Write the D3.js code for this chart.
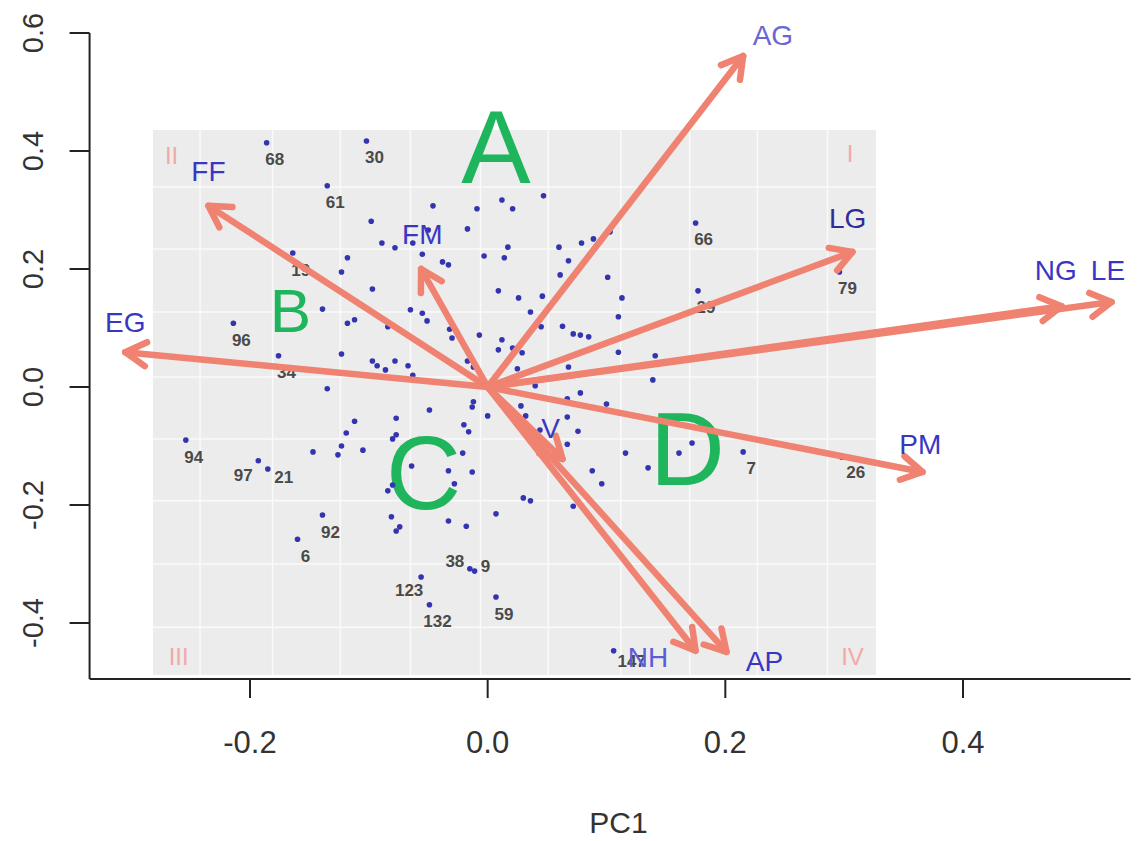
<!DOCTYPE html>
<html>
<head>
<meta charset="utf-8">
<script src="https://cdn.jsdelivr.net/npm/d3@7"></script>
<style>
  body { margin: 0; background: #fff; }
  svg { display: block; font-family: "Liberation Sans", Arial, sans-serif; }
</style>
</head>
<body>
<svg id="chart" width="1137" height="841"></svg>
<script>
// axis ticks
const xTicks = [-0.2, 0.0, 0.2, 0.4];
const yTicks = [-0.4, -0.2, 0.0, 0.2, 0.4, 0.6];

// loadings (arrow tips) and where their names sit
const varNames = ["AG", "FF", "FM", "EG", "LG", "NG", "LE", "PM", "V", "NH", "AP"];
const loadX = [0.215, -0.235, -0.056, -0.305, 0.307, 0.483, 0.525, 0.366, 0.063, 0.175, 0.201];
const loadY = [0.561, 0.307, 0.200, 0.059, 0.229, 0.137, 0.144, -0.144, -0.122, -0.447, -0.449];
const nameX = [0.240, -0.235, -0.055, -0.305, 0.303, 0.478, 0.522, 0.364, 0.053, 0.135, 0.233];
const nameY = [0.595, 0.366, 0.258, 0.110, 0.285, 0.197, 0.197, -0.097, -0.071, -0.458, -0.466];

// scores
const pointX = [-0.186, -0.102, -0.135, -0.098, -0.164, -0.118, -0.123, -0.046, -0.089, -0.078,
  -0.063, -0.050, -0.055, -0.038, -0.033, -0.017, -0.009, 0.012, 0.021, 0.047,
  -0.003, 0.014, 0.017, 0.060, 0.079, 0.089, 0.103, 0.068, 0.061, 0.101,
  0.175, 0.296, -0.097, 0.009, 0.026, 0.046, 0.113, 0.110, 0.177, -0.065,
  -0.055, -0.051, 0.036, 0.063, 0.072, 0.078, 0.085, 0.045, -0.007, 0.012,
  0.009, 0.021, 0.029, -0.032, -0.030, -0.084, -0.097, -0.093, -0.086, -0.078,
  -0.067, -0.063, -0.017, -0.012, 0.025, 0.068, 0.110, 0.139, 0.141, 0.040,
  0.078, 0.067, 0.100, -0.012, -0.013, 0.000, -0.049, 0.028, 0.032, 0.067,
  0.076, 0.044, -0.020, -0.016, -0.077, -0.077, -0.080, 0.067, -0.021, 0.116,
  0.172, 0.161, 0.215, 0.135, 0.088, 0.096, -0.064, -0.033, -0.013, -0.028,
  -0.084, -0.080, 0.030, 0.036, -0.139, -0.118, -0.112, -0.214, -0.176, -0.123,
  -0.135, -0.112, -0.119, -0.123, -0.126, -0.105, -0.147, -0.254, -0.193, -0.185,
  -0.139, -0.160, 0.072, -0.081, -0.074, -0.077, -0.033, -0.018, 0.007, -0.015,
  -0.011, -0.056, -0.049, 0.007, 0.106, 0.298];
const pointY = [0.414, 0.417, 0.341, 0.281, 0.227, 0.219, 0.195, 0.307, 0.244, 0.236,
  0.244, 0.266, 0.225, 0.212, 0.207, 0.268, 0.302, 0.317, 0.302, 0.324,
  0.222, 0.219, 0.237, 0.237, 0.244, 0.251, 0.263, 0.214, 0.190, 0.186,
  0.278, 0.195, 0.166, 0.163, 0.151, 0.154, 0.151, 0.119, 0.163, 0.131,
  0.125, 0.112, 0.127, 0.103, 0.090, 0.088, 0.085, 0.102, 0.088, 0.080,
  0.063, 0.066, 0.058, 0.098, 0.083, 0.102, 0.044, 0.036, 0.029, 0.044,
  0.036, 0.020, 0.044, 0.034, 0.031, 0.034, 0.059, 0.012, 0.053, 0.002,
  -0.010, -0.020, -0.029, -0.025, -0.034, -0.049, -0.039, -0.032, -0.049, -0.051,
  -0.075, -0.073, -0.064, -0.076, -0.053, -0.081, -0.088, -0.097, -0.112, -0.112,
  -0.095, -0.112, -0.110, -0.137, -0.142, -0.164, -0.134, -0.142, -0.144, -0.164,
  -0.176, -0.166, -0.188, -0.193, 0.132, 0.108, 0.114, 0.108, 0.053, 0.056,
  -0.003, -0.058, -0.078, -0.100, -0.115, -0.107, -0.110, -0.090, -0.125, -0.139,
  -0.217, -0.258, -0.202, -0.220, -0.237, -0.244, -0.227, -0.236, -0.215, -0.308,
  -0.312, -0.322, -0.369, -0.356, -0.447, -0.119];
const pointId = ["68", "30", "61", "", "19", "", "", "", "", "",
  "", "", "", "", "", "", "", "", "", "",
  "", "", "", "", "", "", "", "", "", "",
  "66", "79", "", "", "", "", "", "", "29", "",
  "", "", "", "", "", "", "", "", "", "",
  "", "", "", "", "", "", "", "", "", "",
  "", "", "", "", "", "", "", "", "", "",
  "", "", "", "", "", "", "", "", "", "",
  "", "", "", "", "", "", "", "", "", "",
  "", "", "7", "", "", "", "", "", "", "",
  "", "", "", "", "", "", "", "96", "34", "",
  "", "", "", "", "", "", "", "94", "97", "21",
  "92", "6", "", "", "", "", "", "", "", "38",
  "9", "123", "132", "59", "147", "26"];

// quadrant letters and roman numerals
const zoneText = ["A", "B", "C", "D"];
const zoneX = [0.007, -0.166, -0.054, 0.168];
const zoneY = [0.407, 0.129, -0.146, -0.105];
const zoneSize = [104, 62, 104, 104];
const romanText = ["II", "I", "III", "IV"];
const romanX = [-0.266, 0.305, -0.260, 0.307];
const romanY = [0.393, 0.395, -0.456, -0.456];

// inner grey panel and its grid
const panelX = [-0.2817, 0.3268];
const panelY = [-0.488, 0.4356];
const gridX = [-0.242, -0.181, -0.124, -0.065, -0.006, 0.051, 0.112, 0.170, 0.227, 0.286];
const gridY = [0.339, 0.234, 0.127, 0.017, -0.088, -0.193, -0.300, -0.407];

const xEnd = [-0.335, 0.541];
const yEnd = [-0.495, 0.6];

const svg = d3.select("#chart");
const x = d3.scaleLinear().domain([-0.2, 0.4]).range([250, 963]);
const y = d3.scaleLinear().domain([-0.4, 0.6]).range([623, 33]);

const arrowCol = "#ef8270";
const nameCol = {AG: "#6a66d2", LG: "#2e2c96", NH: "#5c5cd8"};
const fmt = d => d.toFixed(1);

// grey panel
svg.append("rect")
  .attr("x", x(panelX[0])).attr("y", y(panelY[1]))
  .attr("width", x(panelX[1]) - x(panelX[0]))
  .attr("height", y(panelY[0]) - y(panelY[1]))
  .attr("fill", "#ececec");

svg.append("g").selectAll("line").data(gridX).join("line")
  .attr("x1", d => x(d)).attr("x2", d => x(d))
  .attr("y1", y(panelY[1])).attr("y2", y(panelY[0]))
  .attr("stroke", "#fafafa").attr("stroke-width", 1.5);
svg.append("g").selectAll("line").data(gridY).join("line")
  .attr("y1", d => y(d)).attr("y2", d => y(d))
  .attr("x1", x(panelX[0])).attr("x2", x(panelX[1]))
  .attr("stroke", "#fafafa").attr("stroke-width", 1.5);

// roman numerals
svg.append("g").selectAll("text").data(romanText).join("text")
  .attr("x", (d, i) => x(romanX[i])).attr("y", (d, i) => y(romanY[i]))
  .attr("text-anchor", "middle").attr("dominant-baseline", "central")
  .attr("font-size", 24).attr("fill", "#f2a9a9")
  .text(d => d);

// quadrant letters
svg.append("g").selectAll("text").data(zoneText).join("text")
  .attr("x", (d, i) => x(zoneX[i])).attr("y", (d, i) => y(zoneY[i]))
  .attr("text-anchor", "middle").attr("dominant-baseline", "central")
  .attr("font-size", (d, i) => zoneSize[i]).attr("fill", "#1fb55c")
  .text(d => d);

// points
const pts = pointX.map((d, i) => ({x: d, y: pointY[i], id: pointId[i]}));
svg.append("g").selectAll("circle").data(pts).join("circle")
  .attr("cx", d => x(d.x)).attr("cy", d => y(d.y)).attr("r", 2.8)
  .attr("fill", "#3434b0");

const labelNudge = {"97": [-15, 15], "38": [-15, -7], "123": [-12, 14], "9": [11, -5],
  "147": [18, 11], "21": [16, 8], "26": [14, 15]};
svg.append("g").selectAll("text").data(pts.filter(d => d.id)).join("text")
  .attr("x", d => x(d.x) + (labelNudge[d.id] || [8, 17])[0])
  .attr("y", d => y(d.y) + (labelNudge[d.id] || [8, 17])[1])
  .attr("text-anchor", "middle").attr("dominant-baseline", "central")
  .attr("font-size", 17).attr("font-weight", "bold").attr("fill", "#4a4a4a")
  .text(d => d.id);

// arrows
const x0 = x(0), y0 = y(0);
const arrows = svg.append("g").attr("stroke", arrowCol).attr("stroke-width", 6.5)
  .attr("stroke-linecap", "round").attr("fill", "none");
varNames.forEach((v, i) => {
  const tx = x(loadX[i]), ty = y(loadY[i]);
  const a = Math.atan2(ty - y0, tx - x0);
  const len = 24, spread = Math.PI / 6;
  arrows.append("line").attr("x1", x0).attr("y1", y0).attr("x2", tx).attr("y2", ty);
  arrows.append("path").attr("stroke-linejoin", "round")
    .attr("d", d3.line()([
      [tx - len * Math.cos(a - spread), ty - len * Math.sin(a - spread)],
      [tx, ty],
      [tx - len * Math.cos(a + spread), ty - len * Math.sin(a + spread)]
    ]));
});

// variable names
svg.append("g").selectAll("text").data(varNames).join("text")
  .attr("x", (d, i) => x(nameX[i])).attr("y", (d, i) => y(nameY[i]))
  .attr("text-anchor", "middle").attr("dominant-baseline", "central")
  .attr("font-size", 28).attr("fill", d => nameCol[d] || "#3a36c4")
  .text(d => d);

// axes (L-shaped frame)
const ax = svg.append("g").attr("stroke", "#222").attr("stroke-width", 2);
ax.append("line").attr("x1", x(xEnd[0])).attr("x2", x(xEnd[0]))
  .attr("y1", y(yEnd[1])).attr("y2", y(yEnd[0]));
ax.append("line").attr("x1", x(xEnd[0])).attr("x2", x(xEnd[1]))
  .attr("y1", y(yEnd[0])).attr("y2", y(yEnd[0]));
ax.selectAll(".xt").data(xTicks).join("line").attr("class", "xt")
  .attr("x1", d => x(d)).attr("x2", d => x(d))
  .attr("y1", y(yEnd[0])).attr("y2", y(yEnd[0]) + 19);
ax.selectAll(".yt").data(yTicks).join("line").attr("class", "yt")
  .attr("y1", d => y(d)).attr("y2", d => y(d))
  .attr("x1", x(xEnd[0])).attr("x2", x(xEnd[0]) - 20);

svg.append("g").selectAll("text").data(xTicks).join("text")
  .attr("x", d => x(d)).attr("y", y(yEnd[0]) + 63)
  .attr("text-anchor", "middle").attr("dominant-baseline", "central")
  .attr("font-size", 31).attr("fill", "#333")
  .text(fmt);

svg.append("g").selectAll("text").data(yTicks).join("text")
  .attr("transform", d => `translate(33,${y(d)}) rotate(-90)`)
  .attr("text-anchor", "middle").attr("dominant-baseline", "central")
  .attr("font-size", 29).attr("fill", "#333")
  .text(fmt);

svg.append("text")
  .attr("x", x(0.11)).attr("y", 822)
  .attr("text-anchor", "middle").attr("dominant-baseline", "central")
  .attr("font-size", 30).attr("fill", "#333")
  .text("PC1");
</script>
</body>
</html>
